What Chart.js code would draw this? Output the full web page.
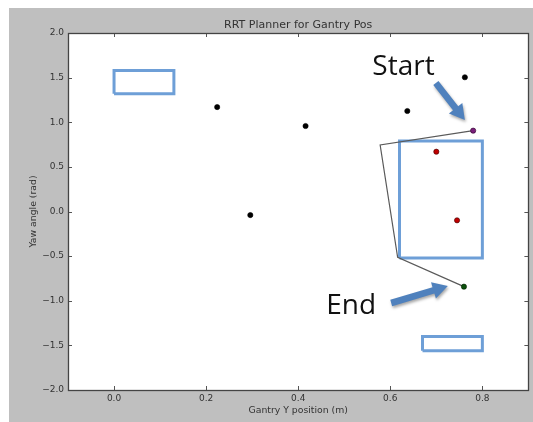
<!DOCTYPE html>
<html>
<head>
<meta charset="utf-8">
<title>RRT Planner for Gantry Pos</title>
<script src="https://cdn.jsdelivr.net/npm/chart.js@4.4.1/dist/chart.umd.min.js"></script>
<style>
  html, body { margin: 0; padding: 0; background: #fff; }
  #chart { position: absolute; left: 9px; top: 8px; }
</style>
</head>
<body>
<canvas id="chart" width="524" height="414"></canvas>
<script>
// tree nodes (black)
const nodeX = [0.224, 0.296, 0.416, 0.637, 0.762];
const nodeY = [1.17, -0.04, 0.958, 1.126, 1.504];
// sampled points inside the obstacle (red)
const redX = [0.700, 0.745];
const redY = [0.670, -0.099];
// start / end poses
const startX = [0.780];
const startY = [0.906];
const endX = [0.760];
const endY = [-0.842];
// planned path
const pathX = [0.780, 0.578, 0.616, 0.760];
const pathY = [0.906, 0.745, -0.513, -0.842];
// obstacles (rectangles)
const obsLeft = [0.00, 0.62, 0.67];
const obsRight = [0.13, 0.80, 0.80];
const obsBottom = [1.32, -0.52, -1.56];
const obsTop = [1.58, 0.79, -1.40];
// ticks
const xTicks = [0.0, 0.2, 0.4, 0.6, 0.8];
const yTicks = [-2.0, -1.5, -1.0, -0.5, 0.0, 0.5, 1.0, 1.5, 2.0];

const zip = (xs, ys) => xs.map((x, i) => ({ x, y: ys[i] }));
const fmt = (v) => Number(v).toFixed(1).replace("-", "\u2212");

const rectSets = obsLeft.map((l, i) => ({
  data: [
    { x: l, y: obsBottom[i] }, { x: obsRight[i], y: obsBottom[i] },
    { x: obsRight[i], y: obsTop[i] }, { x: l, y: obsTop[i] }, { x: l, y: obsBottom[i] },
  ],
  showLine: true,
  borderColor: "#6e9fd7",
  borderWidth: 3,
  pointRadius: 0,
  order: 5,
}));

const dot = (data, color, edge) => ({
  data,
  backgroundColor: color,
  borderColor: edge,
  borderWidth: 0.6,
  pointRadius: 2.6,
  order: 1,
});

// annotation overlay, placed in data units
const notes = [
  { text: "Start", x: 0.561, y: 1.529, tail: [0.699, 1.44], tip: [0.762, 1.025] },
  { text: "End", x: 0.461, y: -1.148, tail: [0.602, -1.025], tip: [0.725, -0.835] },
];

const framePlugin = {
  id: "frame",
  beforeDraw(chart) {
    const { ctx, chartArea: a } = chart;
    ctx.save();
    ctx.fillStyle = "#bfbfbf";
    ctx.fillRect(0, 0, chart.width, chart.height);
    ctx.fillStyle = "#fff";
    ctx.fillRect(a.left, a.top, a.right - a.left, a.bottom - a.top);
    ctx.restore();
  },
  afterDatasetsDraw(chart) {
    const { ctx, chartArea: a, scales } = chart;
    ctx.save();
    ctx.strokeStyle = "#555";
    ctx.lineWidth = 1;
    scales.x.ticks.forEach((t) => {
      const px = Math.round(scales.x.getPixelForValue(t.value)) + 0.5;
      ctx.beginPath();
      ctx.moveTo(px, a.bottom); ctx.lineTo(px, a.bottom - 4);
      ctx.moveTo(px, a.top); ctx.lineTo(px, a.top + 4);
      ctx.stroke();
    });
    scales.y.ticks.forEach((t) => {
      const py = Math.round(scales.y.getPixelForValue(t.value)) + 0.5;
      ctx.beginPath();
      ctx.moveTo(a.left, py); ctx.lineTo(a.left + 4, py);
      ctx.moveTo(a.right, py); ctx.lineTo(a.right - 4, py);
      ctx.stroke();
    });
    ctx.strokeStyle = "#444";
    ctx.lineWidth = 1.3;
    ctx.strokeRect(Math.round(a.left) + 0.5, Math.round(a.top) + 0.5,
      Math.round(a.right - a.left), Math.round(a.bottom - a.top));
    ctx.restore();
  },
  afterDraw(chart) {
    const { ctx, scales } = chart;
    const px = (v) => scales.x.getPixelForValue(v);
    const py = (v) => scales.y.getPixelForValue(v);
    ctx.save();
    notes.forEach((n) => {
      ctx.font = "28px 'Open Sans'";
      ctx.fillStyle = "#111";
      ctx.textBaseline = "alphabetic";
      ctx.fillText(n.text, px(n.x), py(n.y));

      const x0 = px(n.tail[0]), y0 = py(n.tail[1]);
      const x1 = px(n.tip[0]), y1 = py(n.tip[1]);
      const ang = Math.atan2(y1 - y0, x1 - x0);
      const len = Math.hypot(x1 - x0, y1 - y0);
      const head = 15, half = 3.3, wing = 8.5;
      ctx.save();
      ctx.translate(x0, y0);
      ctx.rotate(ang);
      ctx.shadowColor = "rgba(0,0,0,0.35)";
      ctx.shadowBlur = 3;
      ctx.shadowOffsetX = 1;
      ctx.shadowOffsetY = 2;
      ctx.fillStyle = "#4f81bd";
      ctx.beginPath();
      ctx.moveTo(0, -half);
      ctx.lineTo(len - head, -half);
      ctx.lineTo(len - head, -wing);
      ctx.lineTo(len, 0);
      ctx.lineTo(len - head, wing);
      ctx.lineTo(len - head, half);
      ctx.lineTo(0, half);
      ctx.closePath();
      ctx.fill();
      ctx.restore();
    });
    ctx.restore();
  },
};

const tickFont = { family: "'DejaVu Sans'", size: 9 };
const labelFont = { family: "'DejaVu Sans'", size: 9.3 };

new Chart(document.getElementById("chart"), {
  type: "scatter",
  data: {
    datasets: [
      ...rectSets,
      {
        data: zip(pathX, pathY),
        showLine: true,
        borderColor: "#5a5a5a",
        borderWidth: 1.2,
        pointRadius: 0,
        order: 3,
      },
      dot(zip(nodeX, nodeY), "#000", "#000"),
      dot(zip(redX, redY), "#c00000", "#400000"),
      dot(zip(startX, startY), "#7b1f7b", "#2a002a"),
      dot(zip(endX, endY), "#0c500c", "#002000"),
    ],
  },
  options: {
    responsive: false,
    devicePixelRatio: 1,
    animation: false,
    layout: { padding: { left: 0, right: 3, top: 0, bottom: 0 } },
    plugins: {
      legend: { display: false },
      tooltip: { enabled: false },
      title: {
        display: true,
        text: "RRT Planner for Gantry Pos",
        fullSize: false,
        color: "#333",
        font: { family: "'DejaVu Sans'", size: 11, weight: "normal" },
        padding: { top: 10.5, bottom: 1.3 },
      },
    },
    scales: {
      x: {
        type: "linear",
        min: -0.1,
        max: 0.9,
        grid: { display: false, drawTicks: false },
        border: { display: false },
        afterBuildTicks: (scale) => { scale.ticks = xTicks.map((v) => ({ value: v })); },
        afterFit: (scale) => { scale.height = 32; },
        ticks: { color: "#333", font: tickFont, padding: 3, maxRotation: 0, callback: fmt },
        title: {
          display: true,
          text: "Gantry Y position (m)",
          color: "#333",
          font: labelFont,
          padding: { top: 0, bottom: 6 },
        },
      },
      y: {
        type: "linear",
        min: -2,
        max: 2,
        grid: { display: false, drawTicks: false },
        border: { display: false },
        afterBuildTicks: (scale) => { scale.ticks = yTicks.map((v) => ({ value: v })); },
        afterFit: (scale) => { scale.width = 59; },
        ticks: { color: "#333", font: tickFont, padding: 4, callback: fmt },
        title: {
          display: true,
          text: "Yaw angle (rad)",
          color: "#333",
          font: labelFont,
          padding: { top: 19, bottom: 0 },
        },
      },
    },
  },
  plugins: [framePlugin],
});
</script>
</body>
</html>
